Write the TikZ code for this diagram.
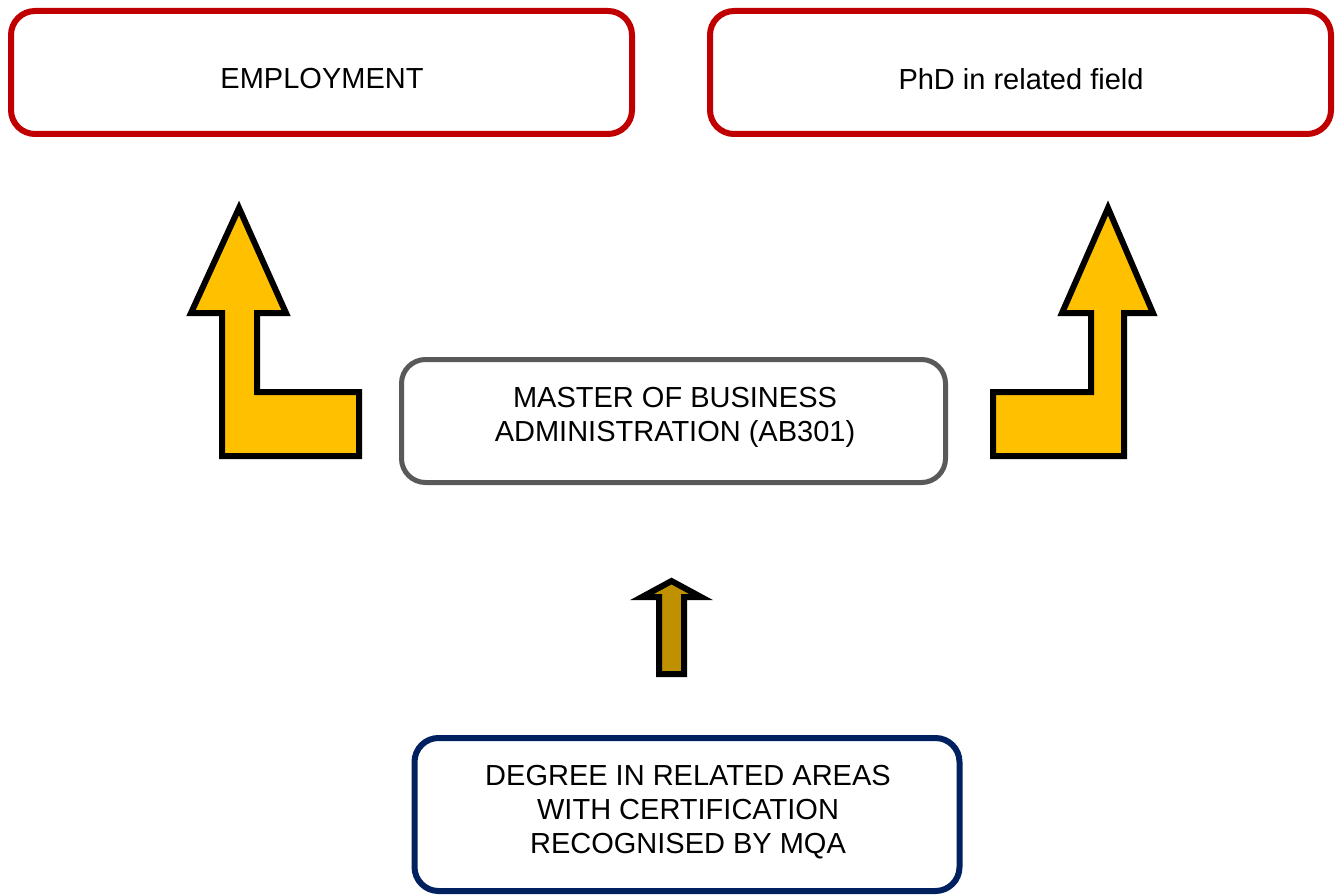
\documentclass[tikz,border=0pt]{standalone}
\usepackage{fontspec}
\setmainfont{Liberation Sans}
\definecolor{boxred}{HTML}{C00000}
\definecolor{boxgray}{HTML}{595959}
\definecolor{boxnavy}{HTML}{002060}
\definecolor{arrowgold}{HTML}{FFC000}
\definecolor{arrowdark}{HTML}{BF9000}
\begin{document}
\begin{tikzpicture}[x=0.75pt,y=-0.75pt,
  roundbox/.style={draw, rounded corners=18pt, fill=white, inner sep=0pt},
  label text/.style={font=\fontsize{21.75}{25.5}\selectfont, align=center, inner sep=0pt},
  blockarrow/.style={draw=black, line width=4.5pt, miter limit=10, line join=miter}]
\useasboundingbox (0,0) rectangle (1337,895);

% outcome boxes
\node[roundbox, draw=boxred, line width=4.5pt, minimum width=465.75pt, minimum height=92.25pt] (emp) at (321.5,72.5) {};
\node[roundbox, draw=boxred, line width=4.5pt, minimum width=465.75pt, minimum height=92.25pt] (phd) at (1020.5,72.5) {};
\node[label text] (emptext) at (322,79) {EMPLOYMENT};
\node[label text] (phdtext) at (1021,79) {PhD in related field};

% programme box
\node[roundbox, draw=boxgray, line width=3.75pt, minimum width=408pt, minimum height=92.25pt] (mba) at (673.5,421) {};
\node[label text] (mbatext) at (675,417) {MASTER OF BUSINESS\\ADMINISTRATION (AB301)};

% entry requirement box
\node[roundbox, draw=boxnavy, line width=4.5pt, minimum width=408.75pt, minimum height=114.75pt] (deg) at (687,814.5) {};
\node[label text] (degtext) at (688,812.5) {DEGREE IN RELATED AREAS\\WITH CERTIFICATION\\RECOGNISED BY MQA};

% bent arrows towards the outcomes
\draw[blockarrow, fill=arrowgold]
  (239,208) -- (286,313) -- (257,313) -- (257,392) -- (359,392) -- (359,456)
  -- (222,456) -- (222,313) -- (191,313) -- cycle;
\draw[blockarrow, fill=arrowgold]
  (1108,208) -- (1153,313) -- (1124,313) -- (1124,456) -- (993,456) -- (993,392)
  -- (1091,392) -- (1091,313) -- (1062,313) -- cycle;

% straight arrow from entry requirement to programme
\draw[blockarrow, fill=arrowdark]
  (671.5,581) -- (701,597) -- (684,597) -- (684,674) -- (659,674) -- (659,597)
  -- (642,597) -- cycle;
\end{tikzpicture}
\end{document}
